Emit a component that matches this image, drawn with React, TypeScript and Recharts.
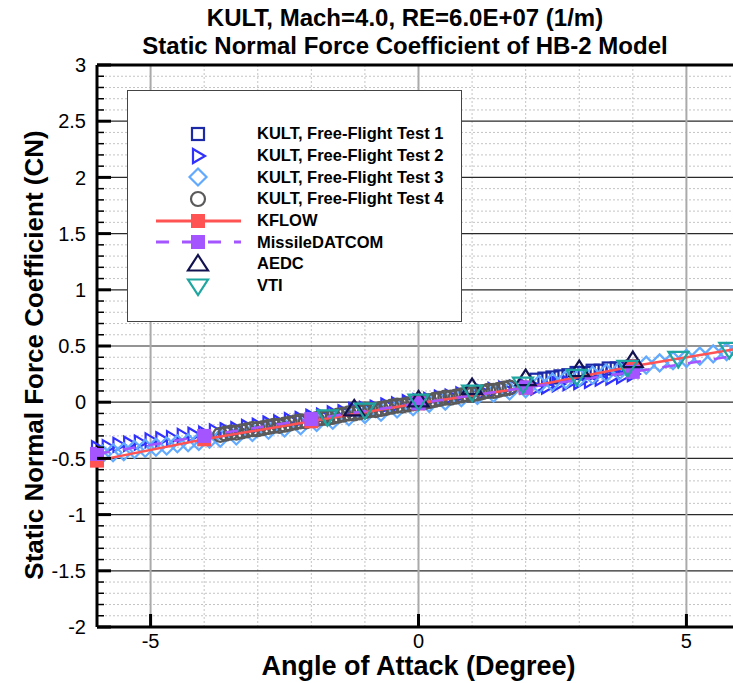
import * as React from 'react';
import { ScatterChart, Scatter, XAxis, YAxis, CartesianGrid, Legend, ReferenceLine, Label } from 'recharts';

type Pt = [number, number];

// angle of attack (deg), CN
const kultTest1: Pt[] = [
  [2.2, 0.2], [2.35, 0.21], [2.5, 0.22], [2.65, 0.23], [2.8, 0.24], [2.95, 0.26], [3.1, 0.26],
  [3.25, 0.28], [3.4, 0.28], [3.55, 0.3], [3.7, 0.3], [3.85, 0.31], [4.0, 0.32],
];

const kultTest2: Pt[] = [
  [-6.0, -0.41], [-5.8, -0.4], [-5.6, -0.38], [-5.4, -0.37], [-5.2, -0.36], [-5.0, -0.34], [-4.8, -0.33],
  [-4.6, -0.32], [-4.4, -0.3], [-4.2, -0.29], [-4.0, -0.28], [-3.8, -0.26], [-3.6, -0.25], [-3.4, -0.24],
  [-3.2, -0.22], [-3.0, -0.21], [-2.8, -0.19], [-2.6, -0.18], [-2.4, -0.16], [-2.2, -0.15], [-2.0, -0.13],
  [-1.8, -0.12], [-1.6, -0.1], [-1.4, -0.09], [-1.2, -0.07], [-1.0, -0.06], [-0.8, -0.05], [-0.6, -0.03],
  [-0.4, -0.02], [-0.2, 0.0], [0.0, 0.01], [0.2, 0.02], [0.4, 0.04], [0.6, 0.05], [0.8, 0.07], [1.0, 0.08],
  [1.2, 0.09], [1.4, 0.11], [1.6, 0.12], [1.8, 0.13], [2.0, 0.14], [2.2, 0.13], [2.4, 0.14], [2.6, 0.16],
  [2.8, 0.17], [3.0, 0.18], [3.2, 0.19], [3.4, 0.21], [3.6, 0.22], [3.8, 0.23], [4.0, 0.25],
];

const kultTest3: Pt[] = [
  [-5.9, -0.46], [-5.7, -0.45], [-5.5, -0.44], [-5.3, -0.42], [-5.1, -0.41], [-4.9, -0.4], [-4.7, -0.39],
  [-4.5, -0.37], [-4.3, -0.36], [-4.1, -0.35], [-3.9, -0.33], [-3.7, -0.32], [-3.4, -0.3], [-3.1, -0.27],
  [-2.8, -0.25], [-2.5, -0.23], [-2.2, -0.21], [-1.9, -0.18], [-1.6, -0.16], [-1.3, -0.13], [-1.0, -0.11],
  [-0.7, -0.09], [-0.4, -0.06], [-0.1, -0.04], [0.2, -0.01], [0.5, 0.01], [0.8, 0.04], [1.1, 0.06],
  [1.4, 0.08], [1.7, 0.1], [2.0, 0.12], [2.25, 0.16], [2.5, 0.18], [2.75, 0.2], [3.0, 0.22], [3.25, 0.24],
  [3.5, 0.26], [3.75, 0.28], [4.0, 0.3], [4.25, 0.33], [4.5, 0.35], [4.75, 0.37], [5.0, 0.39], [5.25, 0.41],
  [5.5, 0.43], [5.75, 0.45], [5.95, 0.46],
];

const kultTest4: Pt[] = [
  [-3.7, -0.29], [-3.6, -0.28], [-3.5, -0.27], [-3.4, -0.27], [-3.3, -0.26], [-3.2, -0.25], [-3.1, -0.24],
  [-3.0, -0.24], [-2.9, -0.23], [-2.8, -0.22], [-2.7, -0.21], [-2.6, -0.21], [-2.5, -0.2], [-2.4, -0.19],
  [-2.3, -0.18], [-2.2, -0.17], [-2.1, -0.17], [-2.0, -0.16], [-1.9, -0.15], [-1.8, -0.14], [-1.7, -0.14],
  [-1.6, -0.13], [-1.5, -0.12], [-1.4, -0.11], [-1.3, -0.1], [-1.2, -0.1], [-1.1, -0.09], [-1.0, -0.08],
  [-0.9, -0.07], [-0.8, -0.07], [-0.7, -0.06], [-0.6, -0.05], [-0.5, -0.04], [-0.4, -0.03], [-0.3, -0.03],
  [-0.2, -0.02], [-0.1, -0.01], [0.0, 0.0], [0.1, 0.0], [0.2, 0.01], [0.3, 0.02], [0.4, 0.03], [0.5, 0.04],
  [0.6, 0.04], [0.7, 0.05], [0.8, 0.06], [0.9, 0.07], [1.0, 0.07], [1.1, 0.08], [1.2, 0.09], [1.3, 0.1],
  [1.4, 0.1], [1.5, 0.11], [1.6, 0.12], [1.7, 0.13],
];

const kflow: Pt[] = [[-6, -0.52], [-4, -0.33], [-2, -0.17], [0, -0.01], [2, 0.13], [4, 0.32], [6, 0.48]];
const missileDatcom: Pt[] = [[-6, -0.46], [-4, -0.3], [-2, -0.15], [0, -0.01], [2, 0.13], [4, 0.27], [6, 0.42]];
const aedc: Pt[] = [[-1.2, -0.06], [0, 0.02], [1, 0.13], [2, 0.21], [3, 0.29], [4, 0.37]];
const vti: Pt[] = [
  [-1.7, -0.13], [-1, -0.07], [0, 0.01], [1, 0.09], [1.95, 0.16], [2.95, 0.23], [3.9, 0.31], [4.85, 0.39], [5.8, 0.47],
];

const xMajorTicks = [-5, 0, 5];
const xMinorGrid = [-4, -3, -2, -1, 1, 2, 3, 4];
const yMajorTicks = [-2, -1.5, -1, -0.5, 0, 0.5, 1, 1.5, 2, 2.5, 3];
const yAllTicks = Array.from({ length: 51 }, (_, i) => (i - 20) / 10);
const yMajorGrid = yMajorTicks.filter((v) => v > -2 && v < 3);
const yMinorGrid = yAllTicks.filter((v) => !yMajorTicks.includes(v));

const FONT = '"Liberation Sans", Arial, sans-serif';

type Kind = 'square' | 'triRight' | 'diamond' | 'circle' | 'filledSquare' | 'triUp' | 'triDown';

const series = [
  { name: 'KULT, Free-Flight Test 1', data: kultTest1, kind: 'square' as Kind, color: '#1c2aa8' },
  { name: 'KULT, Free-Flight Test 2', data: kultTest2, kind: 'triRight' as Kind, color: '#3030ff' },
  { name: 'KULT, Free-Flight Test 3', data: kultTest3, kind: 'diamond' as Kind, color: '#62aaff' },
  { name: 'KULT, Free-Flight Test 4', data: kultTest4, kind: 'circle' as Kind, color: '#5a5a5a' },
  { name: 'KFLOW', data: kflow, kind: 'filledSquare' as Kind, color: '#ff5252', dash: '' },
  { name: 'MissileDATCOM', data: missileDatcom, kind: 'filledSquare' as Kind, color: '#a455ff', dash: '13 13' },
  { name: 'AEDC', data: aedc, kind: 'triUp' as Kind, color: '#121250' },
  { name: 'VTI', data: vti, kind: 'triDown' as Kind, color: '#1fa6a0' },
];

const Marker = ({ cx, cy, kind, color }: { cx: number; cy: number; kind: Kind; color: string }) => {
  const open = { fill: 'none', stroke: color, strokeWidth: 2.2 };
  switch (kind) {
    case 'square':
      return <rect x={cx - 6} y={cy - 6} width={12} height={12} {...open} />;
    case 'filledSquare':
      return <rect x={cx - 7} y={cy - 7} width={14} height={14} fill={color} />;
    case 'triRight':
      return <polygon points={`${cx - 5},${cy - 7} ${cx + 7},${cy} ${cx - 5},${cy + 7}`} {...open} />;
    case 'diamond':
      return <polygon points={`${cx},${cy - 8.5} ${cx + 8.5},${cy} ${cx},${cy + 8.5} ${cx - 8.5},${cy}`} {...open} />;
    case 'circle':
      return <circle cx={cx} cy={cy} r={7} {...open} />;
    case 'triUp':
      return <polygon points={`${cx},${cy - 9} ${cx + 10},${cy + 6.5} ${cx - 10},${cy + 6.5}`} {...open} />;
    case 'triDown':
      return <polygon points={`${cx - 10},${cy - 6.5} ${cx + 10},${cy - 6.5} ${cx},${cy + 9}`} {...open} />;
  }
  return null;
};

const YTick = ({ x, y, payload }: any) => {
  const v = payload.value as number;
  const major = yMajorTicks.includes(v);
  return (
    <g>
      <line x1={x} x2={x + (major ? 14 : 7)} y1={y} y2={y} stroke="#000" strokeWidth={major ? 3 : 1.5} />
      {major && (
        <text x={x - 11} y={y} dy="0.36em" textAnchor="end" fontSize={20} fontFamily={FONT} fill="#000">
          {String(v)}
        </text>
      )}
    </g>
  );
};

const XTick = ({ x, y, payload }: any) => (
  <g>
    <line x1={x} x2={x} y1={y} y2={y - 13} stroke="#000" strokeWidth={3} />
    <text x={x} y={y + 21} textAnchor="middle" fontSize={20} fontFamily={FONT} fill="#000">
      {String(payload.value)}
    </text>
  </g>
);

const LegendBox = () => (
  <div
    style={{
      width: '100%',
      height: '100%',
      boxSizing: 'border-box',
      border: '1px solid #444',
      background: '#fff',
      paddingTop: 32,
    }}
  >
    {series.map((s) => (
      <div key={s.name} style={{ height: 21.7, display: 'flex', alignItems: 'center' }}>
        <svg width={129} height={22} style={{ flex: 'none' }}>
          {s.dash !== undefined && (
            <line x1={28} x2={113} y1={11} y2={11} stroke={s.color} strokeWidth={3} strokeDasharray={s.dash || undefined} />
          )}
          <Marker cx={70} cy={11} kind={s.kind} color={s.color} />
        </svg>
        <span style={{ font: `bold 16.5px ${FONT}`, color: '#000', whiteSpace: 'nowrap' }}>{s.name}</span>
      </div>
    ))}
  </div>
);

const App = () => (
  <div style={{ position: 'fixed', left: 0, top: 0, width: 733, height: 683, overflow: 'hidden', fontFamily: FONT, background: '#fff' }}>
    <div
      style={{
        position: 'absolute',
        left: 0,
        top: 4,
        width: 810,
        textAlign: 'center',
        font: `bold 24px ${FONT}`,
        lineHeight: '28px',
        color: '#000',
      }}
    >
      <div>KULT, Mach=4.0, RE=6.0E+07 (1/m)</div>
      <div>Static Normal Force Coefficient of HB-2 Model</div>
    </div>
    <ScatterChart width={733} height={683} margin={{ top: 65, right: -7, bottom: 0, left: 0 }}>
      <CartesianGrid horizontalValues={yMinorGrid} verticalValues={xMinorGrid} stroke="#c4c4c4" strokeDasharray="2 2" />
      <CartesianGrid vertical={false} horizontalValues={yMajorGrid} stroke="#2a2a2a" strokeWidth={1.2} />
      <CartesianGrid horizontal={false} verticalValues={[-5, 0, 5]} stroke="#aaa" strokeWidth={2} />
      <XAxis
        type="number"
        dataKey="x"
        domain={[-6, 6]}
        ticks={xMajorTicks}
        interval={0}
        height={56}
        axisLine={{ stroke: '#000', strokeWidth: 3 }}
        tickLine={false}
        tickSize={0}
        tickMargin={0}
        tick={(p: any) => <XTick {...p} />}
      >
        <Label value="Angle of Attack (Degree)" position="center" dy={10} fontSize={27} fontWeight="bold" fontFamily={FONT} fill="#000" />
      </XAxis>
      <YAxis
        type="number"
        dataKey="y"
        domain={[-2, 3]}
        ticks={yAllTicks}
        interval={0}
        width={97}
        axisLine={{ stroke: '#000', strokeWidth: 3 }}
        tickLine={false}
        tickSize={0}
        tickMargin={0}
        tick={(p: any) => <YTick {...p} />}
      >
        <Label
          value="Static Normal Force Coefficient (CN)"
          position="center"
          angle={-90}
          dx={-15}
          dy={9}
          fontSize={26}
          fontWeight="bold"
          fontFamily={FONT}
          fill="#000"
        />
      </YAxis>
      <ReferenceLine y={3} stroke="#000" strokeWidth={3} />
      {series.map((s) => (
        <Scatter
          key={s.name}
          name={s.name}
          data={s.data.map(([x, y]) => ({ x, y }))}
          isAnimationActive={false}
          line={s.dash !== undefined ? { stroke: s.color, strokeWidth: 2.5, strokeDasharray: s.dash || undefined } : false}
          lineType="joint"
          shape={(p: any) => <Marker cx={p.cx} cy={p.cy} kind={s.kind} color={s.color} />}
        />
      ))}
      <Legend
        content={() => <LegendBox />}
        layout="vertical"
        verticalAlign="middle"
        align="center"
        wrapperStyle={{ left: 127, top: 90, width: 335, height: 232 }}
      />
    </ScatterChart>
  </div>
);

export default App;
